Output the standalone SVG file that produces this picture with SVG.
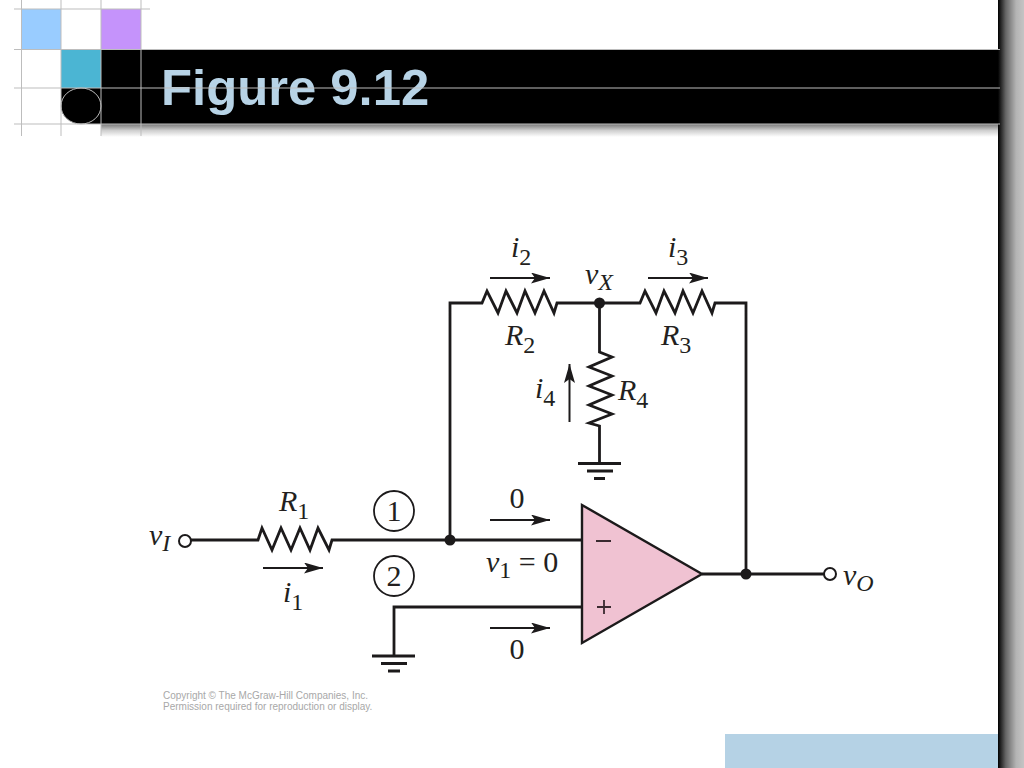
<svg xmlns="http://www.w3.org/2000/svg" width="1024" height="768" viewBox="0 0 1024 768">
<defs>
<linearGradient id="gr" x1="0" x2="1" y1="0" y2="0"><stop offset="0" stop-color="#000"/><stop offset="0.3" stop-color="#666"/><stop offset="0.7" stop-color="#b4b4b4"/><stop offset="1" stop-color="#c4c4c4"/></linearGradient>
<linearGradient id="gb" x1="0" x2="0" y1="0" y2="1"><stop offset="0" stop-color="#777"/><stop offset="0.5" stop-color="#cfcfcf"/><stop offset="1" stop-color="#fff"/></linearGradient>
<marker id="ah" markerUnits="userSpaceOnUse" markerWidth="20" markerHeight="12" refX="19" refY="5.500" orient="auto"><path d="M0 0L19 5.500L0 11L4 5.500Z" fill="#1c1a1b"/></marker>
</defs>
<style>
.w{fill:none;stroke:#1c1a1b;stroke-width:2.8;stroke-linejoin:miter}
.b{fill:none;stroke:#1c1a1b;stroke-width:3}
.a{fill:none;stroke:#1c1a1b;stroke-width:2;marker-end:url(#ah)}
.g{stroke:#bdbdbd;stroke-width:1;fill:none}
.t{font-family:"Liberation Serif",serif;font-size:30px;fill:#231f20}
.i{font-style:italic}
.s{font-style:normal;font-size:24px}
.si{font-style:italic;font-size:24px}
.c{font-family:"Liberation Sans",sans-serif;font-size:10px;fill:#a8a8a8}
.d{fill:#1c1a1b}
</style>
<rect width="1024" height="768" fill="#fff"/>
<g id="slide-frame">
<rect x="21" y="9" width="40" height="40" fill="#99ccff"/>
<rect x="101" y="9" width="40" height="40" fill="#c593fb"/>
<rect x="61" y="50" width="40" height="38" fill="#4bb5d3"/>
<rect x="101" y="124" width="898" height="13" fill="url(#gb)"/>
<rect x="101" y="50" width="898" height="74" fill="#000"/>
<path d="M61 88H101V124H81A20 18 0 0 1 61 106Z" fill="#000"/>
<ellipse cx="81" cy="106" rx="20" ry="18" fill="#000" stroke="#bdbdbd" stroke-width="1"/>
<rect x="725" y="734" width="274" height="34" fill="#b5d2e5"/>
<rect x="998" y="0" width="26" height="768" fill="url(#gr)"/>
<text id="title" x="161" y="105" font-family="Liberation Sans, sans-serif" font-weight="700" font-size="50.8" fill="#b7d3e6">Figure 9.12</text>
<path class="g" d="M21.500 0V136M61 0V136M101 0V136M141 0V136M14 9H150M14 49.500H1000M14 88H1000M14 124H1000"/>
</g>
<g id="connectors">
<path class="w" d="M191 540H258L262 528L272 550L281 528L291 550L300 528L310 550L318 528L329 550L332 540H582"/>
<path class="w" d="M450 540V303H482L487 291L498 313L506 291L517 313L525 291L535 313L544 291L554 313L557 303H640L645 291L656 313L664 291L675 313L683 291L693 313L702 291L712 313L715 303H746V574"/>
<path class="w" d="M599.500 303V352L612 357L589 367L612 376L589 386L612 395L589 405L612 414L589 423L599.500 426V463"/>
<path class="w" d="M582 607H394V656"/>
<path class="w" d="M702 574H825"/>
<path class="b" d="M578 463.500H621M587 471H613M594 478.500H605M372 656H415M381 663.500H407M388 671H400"/>
<path class="a" d="M490 278H550"/>
<path class="a" d="M648 278H708"/>
<path class="a" d="M569.500 422V364"/>
<path class="a" d="M263 568H323"/>
<path class="a" d="M490 520H550"/>
<path class="a" d="M490 628H550"/>
</g>
<g id="opamp"><path d="M582 505L702 574L582 643Z" fill="#f0c2d2" stroke="#1c1a1b" stroke-width="2.4"/><path d="M596 541H611M597 607H611M604 600V614" stroke="#3a2a30" stroke-width="1.8" fill="none"/></g>
<g id="terminal-vi"><circle cx="185" cy="541" r="6" fill="#fff" stroke="#1c1a1b" stroke-width="2"/><text class="t i" x="149" y="545">v<tspan class="si" dy="6">I</tspan></text></g>
<g id="terminal-vo"><circle cx="830" cy="574" r="6" fill="#fff" stroke="#1c1a1b" stroke-width="2"/><text class="t i" x="843" y="585">v<tspan class="si" dy="6">O</tspan></text></g>
<g id="junction-a"><circle class="d" cx="450" cy="540" r="5.500"/></g>
<g id="junction-b"><circle class="d" cx="599.500" cy="303" r="5.500"/><text class="t i" x="585" y="284">v<tspan class="si" dy="6">X</tspan></text></g>
<g id="junction-c"><circle class="d" cx="746" cy="574" r="5.500"/></g>
<g id="node-1"><circle cx="394" cy="511" r="20" fill="none" stroke="#1c1a1b" stroke-width="1.800"/><text class="t" x="394" y="521" text-anchor="middle">1</text></g>
<g id="node-2"><circle cx="394" cy="576" r="20" fill="none" stroke="#1c1a1b" stroke-width="1.800"/><text class="t" x="394" y="586" text-anchor="middle">2</text></g>
<g id="labels">
<text class="t i" x="279" y="511">R<tspan class="s" dy="8">1</tspan></text>
<text class="t i" x="283" y="602">i<tspan class="s" dy="8">1</tspan></text>
<text class="t i" x="511" y="257">i<tspan class="s" dy="8">2</tspan></text>
<text class="t i" x="668" y="257">i<tspan class="s" dy="8">3</tspan></text>
<text class="t i" x="505" y="345">R<tspan class="s" dy="8">2</tspan></text>
<text class="t i" x="661" y="345">R<tspan class="s" dy="8">3</tspan></text>
<text class="t i" x="535" y="398">i<tspan class="s" dy="8">4</tspan></text>
<text class="t i" x="618" y="400">R<tspan class="s" dy="8">4</tspan></text>
<text class="t" x="517" y="508" text-anchor="middle">0</text>
<text class="t" x="517" y="659" text-anchor="middle">0</text>
<text class="t i" x="486" y="572">v<tspan class="s" dy="6">1</tspan><tspan dy="-6" font-style="normal"> = 0</tspan></text>
<text class="c" x="163" y="699">Copyright © The McGraw-Hill Companies, Inc.</text>
<text class="c" x="163" y="710">Permission required for reproduction or display.</text>
</g>
</svg>
